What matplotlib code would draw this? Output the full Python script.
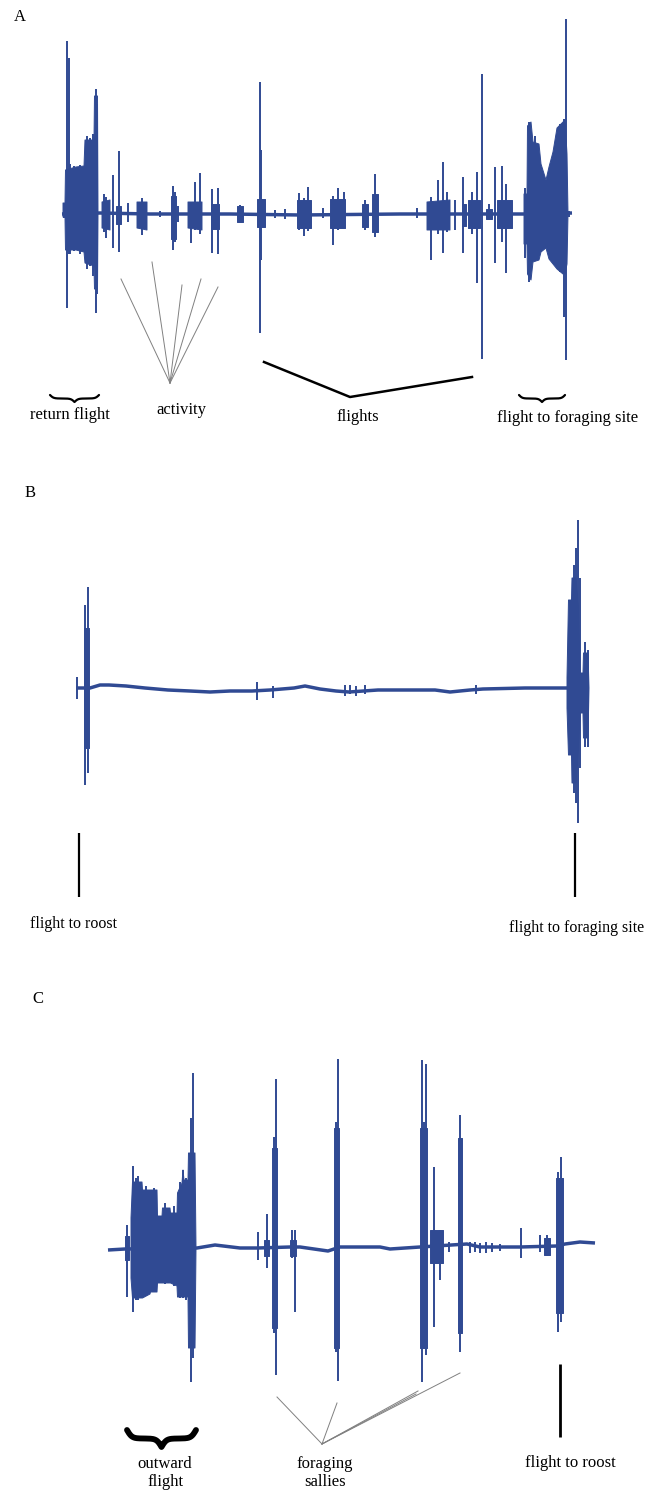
import numpy as np
import matplotlib
matplotlib.use("Agg")
import matplotlib.pyplot as plt

nan = np.nan
BLUE = "#304A93"
FONT = "Liberation Serif"

# ---------------- Panel A (amplitude relative to resting baseline) -------------
a_base_x = [62, 100, 150, 230, 300, 400, 460, 525, 572]
a_base_y = [0, 1, 0, 0, -1, 0, 0, 0, 1]

a_fill_x = [63, 65, 65.5, 76, 84, 85, 94, 94.5, 97.5, 98, nan,
            102, 110, nan, 116, 121, nan, 137, 147, nan, 171, 176, nan,
            188, 202, nan, 211, 219, nan, 237, 243, nan, 257, 265, nan,
            297, 311, nan, 330, 345, nan, 362, 368, nan, 372, 378, nan,
            427, 450, nan, 462, 466, nan, 468, 480, nan, 486, 492, nan,
            497, 512, nan,
            524, 527, 527.5, 531, 533, 539, 541, 546, 549, 553, 557, 563, 565, 567, 568]
a_fill_top = [11, 11, 44, 47, 48, 74, 74, 118, 118, 0, nan,
              12, 14, nan, 8, 8, nan, 12, 12, nan, 18, 18, nan,
              12, 12, nan, 10, 10, nan, 8, 8, nan, 15, 15, nan,
              14, 14, nan, 15, 15, nan, 10, 10, nan, 20, 20, nan,
              12, 14, nan, 10, 10, nan, 14, 14, nan, 5, 5, nan,
              14, 14, nan,
              20, 20, 88, 92, 72, 70, 50, 34, 47, 62, 86, 92, 94, 60, 0]
a_fill_bot = [-3, -3, -36, -36, -38, -49, -52, -75, -75, 0, nan,
              -14, -16, nan, -10, -10, nan, -14, -16, nan, -25, -25, nan,
              -14, -16, nan, -15, -15, nan, -8, -8, nan, -13, -13, nan,
              -14, -14, nan, -14, -14, nan, -13, -13, nan, -18, -18, nan,
              -16, -16, nan, -12, -12, nan, -14, -14, nan, -5, -5, nan,
              -14, -14, nan,
              -30, -30, -60, -66, -48, -46, -38, -34, -45, -50, -55, -60, -60, -50, 0]

a_spike_x = [63.5, 67, 68.5, 70, 74, 80, 87, 90, 93, 95.5, 96.5, 104, 106, 113,
             119, 128, 142, 145,
             160, 173, 175, 178, 191, 195, 200, 212, 218, 240, 259.5, 260.5,
             275, 285, 299, 304, 308, 323, 333, 338, 344, 365, 375, 417, 431,
             438, 443, 447, 455, 463, 472, 477, 482, 489, 495, 502, 506, 525,
             528.5, 535, 560, 563.5, 565.5, 569]
a_spike_top = [11, 173, 156, 50, 48, 49, 78, 76, 80, 125, 110, 20, 17, 39,
               63, 11, 16, 10,
               3, 28, 22, 8, 12, 32, 41, 25, 26, 9, 132, 64,
               4, 5, 21, 16, 27, 6, 18, 26, 22, 14, 40, 6, 17,
               34, 52, 22, 14, 37, 22, 42, 140, 10, 47, 48, 30, 26,
               92, 78, 90, 95, 195, 3]
a_spike_bot = [-4, -94, -40, -40, -37, -40, -55, -52, -62, -99, -80, -18, -24, -34,
               -38, -8, -21, -15,
               -3, -36, -28, -8, -29, -16, -20, -39, -40, -8, -119, -46,
               -4, -5, -16, -22, -17, -4, -31, -16, -14, -16, -23, -4, -46,
               -20, -39, -18, -16, -39, -20, -69, -145, -6, -49, -28, -59, -44,
               -68, -46, -58, -103, -146, -3]

# ---------------- Panel B -------------
b_base_x = [76, 90, 100, 109, 126, 145, 168, 190, 210, 230, 252, 270, 294, 305,
            320, 336, 349, 378, 420, 435, 450, 470, 483, 525, 568]
b_base_y = [0, 0, 3, 3, 2, 0, -2, -3, -4, -3, -3, -2, 0, 2,
            -1, -3, -4, -2, -2, -2, -4, -2, -1, 0, 0]

b_fill_x = [84, 89, nan,
            567, 568.5, 571.5, 572, 576, 578.5, 580, 583, 583.5, 588, 589]
b_fill_top = [60, 60, nan,
              10, 88, 88, 110, 110, 80, 15, 15, 35, 35, 0]
b_fill_bot = [-60, -60, nan,
              -20, -67, -67, -95, -95, -60, -25, -25, -50, -50, 0]

b_spike_x = [76.5, 84.5, 87.5, 257, 273, 345, 350, 356, 365, 476,
             570, 573.5, 576, 578, 579.5, 584.5, 587.5]
b_spike_top = [11, 83, 101, 6, 2, 3, 3, 2, 3, 3,
               88, 123, 140, 168, 110, 46, 38]
b_spike_bot = [-11, -97, -85, -12, -10, -8, -6, -8, -6, -6,
               -67, -105, -115, -135, -80, -59, -59]

# ---------------- Panel C -------------
c_base_x = [108, 125, 197, 215, 240, 258, 290, 300, 328, 340, 380, 390, 420,
            467, 480, 520, 557, 565, 580, 595]
c_base_y = [-2, -1, 0, 3, 0, 0, 1, 1, -3, 1, 1, -1, 1,
            4, 1, 1, 2, 4, 6, 5]

c_fill_x = [125, 129, nan,
            131, 132.5, 142, 142.5, 150, 150.5, 157, 157.5, 162, 162.5, 170,
            170.5, 177, 177.5, 182, 183, 184, 188, 188.5, 195, 196, nan,
            264, 269, nan, 272, 277, nan, 290, 296, nan, 334, 339, nan,
            420, 427, nan, 430, 443, nan, 458, 462, nan, 544, 550, nan,
            556, 563]
c_fill_top = [12, 12, nan,
              30, 66, 66, 58, 58, 58, 58, 32, 32, 40, 40,
              35, 35, 55, 65, 78, 68, 68, 95, 95, 0, nan,
              8, 8, nan, 100, 100, nan, 8, 8, nan, 120, 120, nan,
              120, 120, nan, 18, 18, nan, 110, 110, nan, 10, 10, nan,
              70, 70]
c_fill_bot = [-12, -12, nan,
              -30, -50, -50, -50, -46, -44, -44, -35, -35, -35, -35,
              -35, -38, -49, -49, -49, -49, -49, -100, -100, 0, nan,
              -8, -8, nan, -80, -80, nan, -8, -8, nan, -100, -100, nan,
              -100, -100, nan, -15, -15, nan, -85, -85, nan, -7, -7, nan,
              -65, -65]

c_spike_x = [127, 133, 136, 138, 146, 154, 165, 174, 180, 183, 186, 191, 192.5,
             258, 266.5, 273.5, 276, 292, 294.5,
             335.5, 337.5, 422, 424, 426, 434, 440, 449, 459.5, 461,
             470, 475, 480, 486, 492, 500, 521, 540, 547, 557.5, 561]
c_spike_top = [23, 82, 70, 72, 62, 60, 45, 42, 66, 78, 70, 130, 175,
               16, 34, 111, 169, 18, 18,
               126, 189, 188, 126, 184, 81, 18, 6, 133, 110,
               6, 6, 5, 6, 5, 4, 20, 13, 13, 76, 91]
c_spike_bot = [-49, -64, -52, -52, -48, -40, -36, -38, -50, -50, -52, -134, -110,
               -12, -20, -85, -127, -10, -64,
               -104, -133, -134, -100, -107, -79, -32, -4, -104, -85,
               -5, -4, -5, -5, -4, -3, -10, -4, -8, -84, -74]

# ---------------- figure -------------
W, H = 655, 1491
fig = plt.figure(figsize=(W / 100, H / 100), dpi=100)


def panel(row0, row1, base):
    ax = fig.add_axes([0, 1 - row1 / H, 1, (row1 - row0) / H])
    ax.set_xlim(0, W)
    ax.set_ylim(base - row1, base - row0)
    ax.axis("off")
    return ax


def trace(ax, bx, by, fx, ft, fb, sx, st, sb):
    ax.plot(bx, by, color=BLUE, lw=2.5, solid_capstyle="butt", zorder=2)
    ax.fill_between(np.array(fx, float), np.array(ft, float), np.array(fb, float),
                    color=BLUE, lw=0.7, zorder=3)
    ax.vlines(sx, sb, st, color=BLUE, lw=1.4, zorder=3)


def brace(ax, x0, x1, y_end, y_tip, lw):
    beta = 28.0
    xh = np.linspace(0, 0.5, 101)
    yh = 1 / (1 + np.exp(-beta * xh)) + 1 / (1 + np.exp(-beta * (xh - 0.5)))
    xs = np.concatenate([xh, 1 - xh[-2::-1]])
    ys = np.concatenate([yh, yh[-2::-1]])
    ys = (ys - ys.min()) / (ys.max() - ys.min())
    ax.plot(x0 + (x1 - x0) * xs, y_end + (y_tip - y_end) * ys, color="black",
            lw=lw, solid_capstyle="round", solid_joinstyle="round")


def txt(ax, x, y, s, size=12, ha="center"):
    ax.text(x, y, s, fontsize=size, family=FONT, ha=ha, va="center",
            color="black", linespacing=1.2)


# Panel A
axA = panel(0, 440, 214)
trace(axA, a_base_x, a_base_y, a_fill_x, a_fill_top, a_fill_bot,
      a_spike_x, a_spike_top, a_spike_bot)
txt(axA, 14, 197, "A", ha="left")
for ex, ey in [(121, -65), (152, -48), (182, -71), (201, -65), (218, -73)]:
    axA.plot([170, ex], [-169, ey], color="#808080", lw=0.7)
axA.plot([264, 350, 472], [-148, -183, -163], color="black", lw=1.8)
brace(axA, 50, 99, -181, -188, 1.6)
brace(axA, 519, 565, -181, -188, 1.6)
txt(axA, 70, -201, "return flight")
txt(axA, 181, -196, "activity")
txt(axA, 358, -203, "flights")
txt(axA, 568, -204, "flight to foraging site")

# Panel B
axB = panel(440, 960, 688)
trace(axB, b_base_x, b_base_y, b_fill_x, b_fill_top, b_fill_bot,
      b_spike_x, b_spike_top, b_spike_bot)
txt(axB, 25, 195, "B", ha="left")
axB.vlines([79, 575], -209, -145, color="black", lw=1.6)
txt(axB, 74, -236, "flight to roost", size=11.5)
txt(axB, 577, -240, "flight to foraging site", size=11.5)

# Panel C
axC = panel(960, 1491, 1248)
trace(axC, c_base_x, c_base_y, c_fill_x, c_fill_top, c_fill_bot,
      c_spike_x, c_spike_top, c_spike_bot)
txt(axC, 32, 249, "C", ha="left")
brace(axC, 127, 196, -182, -199, 4.2)
txt(axC, 165, -225, "outward\nflight")
for ex, ey in [(277, -149), (337, -155), (418, -143), (416, -146), (460, -125)]:
    axC.plot([322, ex], [-196, ey], color="#808080", lw=0.7)
txt(axC, 325, -225, "foraging\nsallies")
axC.vlines([560], -189, -116, color="black", lw=2.0)
txt(axC, 570, -215, "flight to roost")

fig.savefig("out.png", dpi=100)
